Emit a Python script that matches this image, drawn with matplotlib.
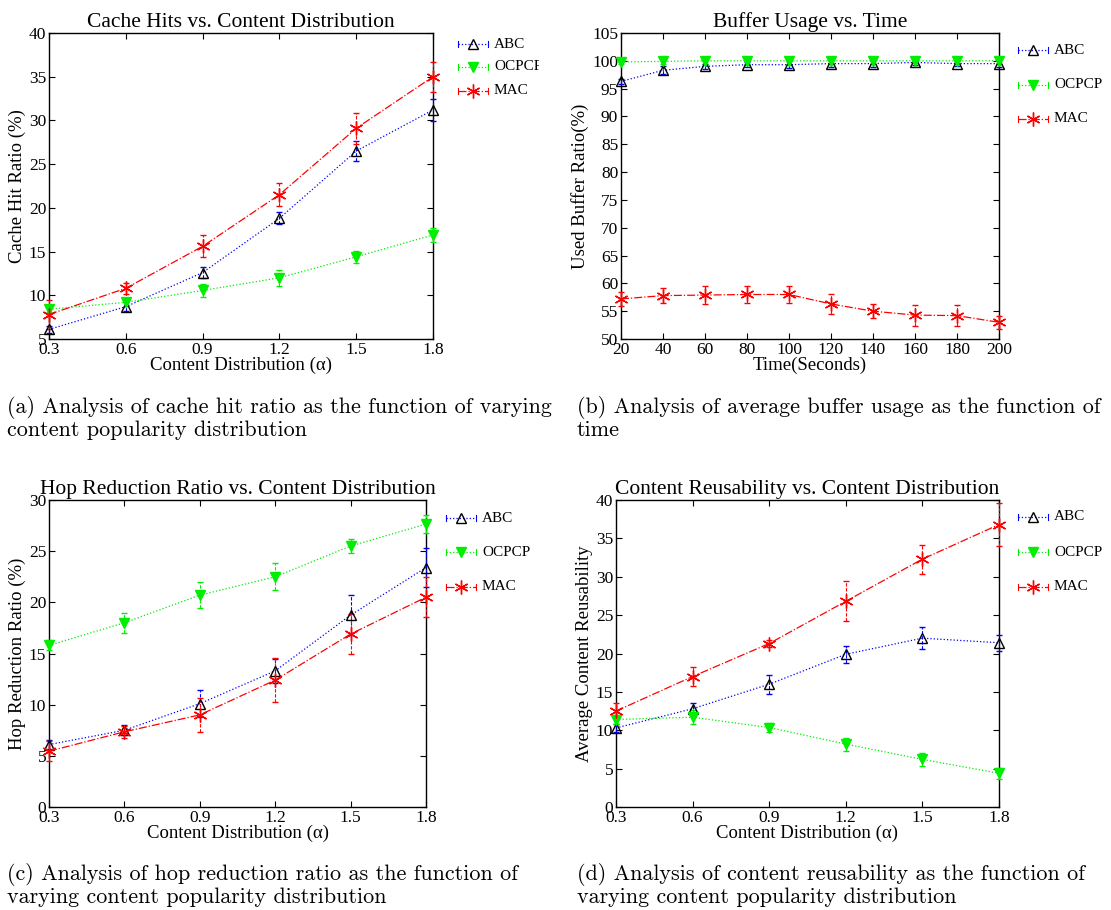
import numpy as np
import matplotlib
matplotlib.use('Agg')
import matplotlib.pyplot as plt
from matplotlib.lines import Line2D
from matplotlib.transforms import Bbox, TransformedBbox

plt.rcParams.update({
    'font.family': 'Liberation Serif',
    'font.size': 10,
    'xtick.direction': 'in',
    'ytick.direction': 'in',
    'xtick.top': True,
    'ytick.right': True,
    'xtick.major.size': 4,
    'ytick.major.size': 4,
    'axes.linewidth': 1.0,
})

W, H = 1111, 910

# ---- data ----
alpha = [0.3, 0.6, 0.9, 1.2, 1.5, 1.8]
time_s = [20, 40, 60, 80, 100, 120, 140, 160, 180, 200]
labels = ['ABC', 'OCPCP', 'MAC']

# (a) cache hit ratio (%)
hit_abc = [6.1, 8.7, 12.6, 18.8, 26.5, 31.2]
hit_abc_err = [0.4, 0.5, 0.6, 0.7, 1.1, 1.3]
hit_ocpcp = [8.4, 9.2, 10.55, 12.0, 14.4, 16.9]
hit_ocpcp_err = [0.3, 0.4, 0.7, 0.9, 0.7, 0.75]
hit_mac = [7.8, 10.8, 15.6, 21.5, 29.1, 35.0]
hit_mac_err = [1.7, 0.65, 1.27, 1.33, 1.8, 1.7]

# (b) used buffer ratio (%)
buf_abc = [96.3, 98.3, 99.0, 99.3, 99.3, 99.5, 99.5, 99.7, 99.5, 99.5]
buf_abc_err = [0.5, 0.7, 0.5, 0.5, 0.6, 0.6, 0.6, 0.5, 0.5, 0.6]
buf_ocpcp = [99.8, 99.9, 100.0, 100.0, 100.0, 100.0, 100.0, 100.0, 100.0, 100.0]
buf_ocpcp_err = [0.3, 0.4, 0.5, 0.5, 0.6, 0.5, 0.6, 0.4, 0.4, 0.5]
buf_mac = [57.2, 57.8, 57.9, 58.0, 58.0, 56.3, 55.0, 54.3, 54.2, 53.0]
buf_mac_err = [1.2, 1.4, 1.55, 1.55, 1.6, 1.85, 1.25, 1.9, 1.85, 1.2]

# (c) hop reduction ratio (%)
hop_abc = [6.1, 7.5, 10.1, 13.3, 18.75, 23.4]
hop_abc_err = [0.4, 0.5, 1.35, 1.2, 1.95, 1.95]
hop_ocpcp = [15.8, 18.0, 20.7, 22.5, 25.5, 27.65]
hop_ocpcp_err = [0.5, 1.0, 1.3, 1.3, 0.7, 0.85]
hop_mac = [5.45, 7.35, 9.0, 12.4, 16.9, 20.5]
hop_mac_err = [1.0, 0.6, 1.65, 2.15, 1.95, 1.95]

# (d) average content reusability
reuse_abc = [10.3, 12.8, 16.0, 19.9, 22.0, 21.4]
reuse_abc_err = [0.5, 0.7, 1.25, 1.1, 1.4, 1.05]
reuse_ocpcp = [11.4, 11.7, 10.35, 8.2, 6.2, 4.4]
reuse_ocpcp_err = [0.55, 0.95, 0.55, 0.85, 0.85, 0.7]
reuse_mac = [12.5, 17.0, 21.3, 26.8, 32.3, 36.8]
reuse_mac_err = [1.05, 1.25, 0.45, 2.6, 1.9, 2.85]

STYLES = {
    'ABC': dict(color='#0000ff', ls=':', marker='^', mfc='none', mec='black', ms=7.5),
    'OCPCP': dict(color='#00ee00', ls=':', marker='v', mfc='#00ee00', mec='#00ee00', ms=7),
    'MAC': dict(color='#ff0000', ls='-.', marker=(6, 2, 0), mfc='#ff0000', mec='#ff0000', ms=10),
}


def px_rect(left, top, right, bottom):
    return [left / W, 1 - bottom / H, (right - left) / W, (bottom - top) / H]


def draw_panel(rect, x, series, title, xlabel, ylabel, ylim, yticks, xticks, xticklabels):
    ax = fig.add_axes(px_rect(*rect))
    for name, (y, e) in zip(labels, series):
        st = STYLES[name]
        eb = ax.errorbar(x, y, yerr=e, color=st['color'], ls=st['ls'], lw=0.9,
                         marker=st['marker'], mfc=st['mfc'], mec=st['mec'], ms=st['ms'],
                         mew=1.0, elinewidth=0.8, capsize=2.5, capthick=0.8,
                         clip_on=False, zorder=3)
        eb[2][0].set_linestyle((0, (3, 1.5)))
    ax.set_xlim(x[0], x[-1])
    ax.set_ylim(*ylim)
    ax.set_yticks(yticks)
    ax.set_xticks(xticks)
    ax.set_xticklabels(xticklabels)
    ax.tick_params(labelsize=12.5, pad=2)
    ax.set_title(title, fontsize=15.5, pad=4)
    ax.set_xlabel(xlabel, fontsize=13.5, labelpad=-1)
    ax.set_ylabel(ylabel, fontsize=13.5, labelpad=2)
    return ax


def draw_legend(x0, x1, ys, clip_right=None):
    for name, y in zip(labels, ys):
        st = STYLES[name]
        yf = 1 - y / H
        fig.add_artist(Line2D([x0 / W, x1 / W], [yf, yf], color=st['color'], ls=st['ls'],
                              lw=0.9, transform=fig.transFigure))
        for xc in (x0, x1):
            fig.add_artist(Line2D([xc / W, xc / W], [yf - 3 / H, yf + 3 / H], color=st['color'],
                                  lw=0.8, transform=fig.transFigure))
        fig.add_artist(Line2D([(x0 + x1) / 2 / W], [yf], marker=st['marker'], mfc=st['mfc'],
                              mec=st['mec'], ms=st['ms'], mew=1.0, ls='none',
                              transform=fig.transFigure))
        t = fig.text((x1 + 6) / W, yf, name, fontsize=11, va='center', ha='left')
        if clip_right is not None:
            t.set_clip_box(TransformedBbox(Bbox([[0, 0], [clip_right / W, 1]]), fig.transFigure))
            t.set_clip_on(True)


fig = plt.figure(figsize=(W / 100, H / 100), dpi=100)

alpha_labels = ['0.3', '0.6', '0.9', '1.2', '1.5', '1.8']

draw_panel((49, 33, 433, 339), alpha,
           [(hit_abc, hit_abc_err), (hit_ocpcp, hit_ocpcp_err), (hit_mac, hit_mac_err)],
           'Cache Hits vs. Content Distribution', 'Content Distribution (α)',
           'Cache Hit Ratio (%)', (5, 40), range(5, 41, 5), alpha, alpha_labels)
draw_legend(458, 488, [44, 67, 91], clip_right=539)

draw_panel((621, 33, 999, 339), time_s,
           [(buf_abc, buf_abc_err), (buf_ocpcp, buf_ocpcp_err), (buf_mac, buf_mac_err)],
           'Buffer Usage vs. Time', 'Time(Seconds)', 'Used Buffer Ratio(%)',
           (50, 105), range(50, 106, 5), time_s, [str(t) for t in time_s])
draw_legend(1018, 1048, [50, 85, 119])

draw_panel((49, 500, 426, 807), alpha,
           [(hop_abc, hop_abc_err), (hop_ocpcp, hop_ocpcp_err), (hop_mac, hop_mac_err)],
           'Hop Reduction Ratio vs. Content Distribution', 'Content Distribution (α)',
           'Hop Reduction Ratio (%)', (0, 30), range(0, 31, 5), alpha, alpha_labels)
draw_legend(446, 476, [518, 552, 587])

draw_panel((616, 500, 999, 807), alpha,
           [(reuse_abc, reuse_abc_err), (reuse_ocpcp, reuse_ocpcp_err), (reuse_mac, reuse_mac_err)],
           'Content Reusability vs. Content Distribution', 'Content Distribution (α)',
           'Average Content Reusability', (0, 40), range(0, 41, 5), alpha, alpha_labels)
draw_legend(1018, 1048, [517, 552, 587])

captions = [
    (7, 396, '(a) Analysis of cache hit ratio as the function of varying\ncontent popularity distribution'),
    (577, 396, '(b) Analysis of average buffer usage as the function of\ntime'),
    (7, 863, '(c) Analysis of hop reduction ratio as the function of\nvarying content popularity distribution'),
    (577, 863, '(d) Analysis of content reusability as the function of\nvarying content popularity distribution'),
]
for x, y, txt in captions:
    fig.text(x / W, 1 - y / H, txt, fontsize=15.9, family='cmr10',
             va='top', ha='left', linespacing=1.12)

fig.savefig('out.png', dpi=100)
